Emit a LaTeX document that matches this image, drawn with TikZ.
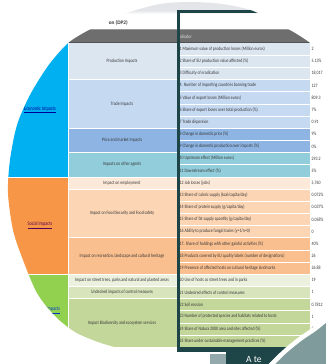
\documentclass[tikz,border=0pt]{standalone}
\usepackage{fontspec}
\setmainfont{Carlito}
\newfontfamily\nfont[FakeStretch=0.78]{Carlito}
\definecolor{econ}{HTML}{00B0F0}
\definecolor{social}{HTML}{F79646}
\definecolor{env}{HTML}{92D050}
\definecolor{cprod}{HTML}{DCE6F1}
\definecolor{ctrade}{HTML}{C5D9F1}
\definecolor{cprice}{HTML}{8DB4E2}
\definecolor{cother}{HTML}{92CDDC}
\definecolor{cemploy}{HTML}{FDE9D9}
\definecolor{cfood}{HTML}{FCD5B4}
\definecolor{crecr}{HTML}{FABF8F}
\definecolor{cstreet}{HTML}{EBF1DE}
\definecolor{cundes}{HTML}{D8E4BC}
\definecolor{cbio}{HTML}{C4D79B}
\definecolor{txt}{HTML}{363636}
\definecolor{hdr}{HTML}{6E6E6E}
\definecolor{frame}{HTML}{1D4447}
\definecolor{panel}{HTML}{1E4649}
\definecolor{pgray}{HTML}{93A9AC}
\definecolor{brgray}{HTML}{7F9B9C}
\definecolor{topgray}{HTML}{E3E5E9}
\newcommand\ry[1]{43+(#1)*12.16}
\newcommand\indrow[3]{%
  \node[indtext] (t#1) at (179.5,{\ry{#1-0.5}}) {#2};%
  \node[valtext] (v#1) at (311.5,{\ry{#1-0.5}}) {#3};}
\newcommand\grp[3]{\fill[#3] (68,{\ry{#1}}) rectangle (310,{\ry{#2}});}
\begin{document}
\begin{tikzpicture}[x=1pt,y=-1pt,
  indtext/.style={anchor=west,inner sep=0pt,font=\nfont\fontsize{5}{6}\selectfont,text=txt},
  valtext/.style={anchor=west,inner sep=0pt,font=\nfont\fontsize{5}{6}\selectfont,text=txt},
  subtext/.style={inner sep=0pt,font=\nfont\fontsize{5}{6}\selectfont,text=txt},
  cattext/.style={inner sep=0pt,font=\nfont\fontsize{5.5}{6.5}\selectfont},
  gridline/.style={white,line width=0.5pt}]
\useasboundingbox (0,0) rectangle (326,364);
\fill[white] (0,0) rectangle (326,364);
\begin{scope}
\clip plot[smooth] coordinates {(335,58) (318,49) (306,40) (288,29) (253,11) (222,4) (190,2) (160,4) (130,12) (103,23) (80,35) (66,45) (48,66) (30,95) (17,125) (10,160) (8,193) (13,230) (23,260) (37,293) (55,316) (75,332) (98,342) (118,348)} -- (118,372) -- (340,372) -- (340,58) -- cycle;
% top gray band
\fill[topgray] (0,-5) rectangle (340,10);
\shade[top color=topgray,bottom color=white] (0,10) rectangle (340,14);
% title
\node[anchor=east,inner sep=0pt,font=\bfseries\fontsize{5.3}{6}\selectfont,text=txt] (title) at (128,23) {on (DP2)};
% header
\fill[hdr] (-10,29.5) rectangle (340,42);
\fill[black!40] (-10,29.2) rectangle (340,30);
\fill[black!68] (-10,42) rectangle (340,43.3);
\node[anchor=west,inner sep=0pt,font=\nfont\fontsize{5}{6}\selectfont,text=white!88!black] (hind) at (177.6,36.3) {Indicator};
% column 1
\fill[econ] (-10,{\ry{0}}) rectangle (68,{\ry{11}});
\fill[social] (-10,{\ry{11}}) rectangle (68,{\ry{19}});
\fill[env] (-10,{\ry{19}}) rectangle (68,{\ry{25}});
% columns 2 and 3
\grp{0}{3}{cprod}
\grp{3}{7}{ctrade}
\grp{7}{9}{cprice}
\grp{9}{11}{cother}
\grp{11}{12}{cemploy}
\grp{12}{16}{cfood}
\grp{16}{19}{crecr}
\grp{19}{20}{cstreet}
\grp{20}{21}{cundes}
\grp{21}{25}{cbio}
% grid lines
\draw[gridline] (68,{\ry{0}}) -- (68,{\ry{25}});
\foreach \k in {1,...,24} {\draw[gridline,line width=0.3pt] (179.5,{\ry{\k}}) -- (310,{\ry{\k}});}
\foreach \k in {3,7,9,11,12,16,19,20,21} {\draw[gridline] (68,{\ry{\k}}) -- (310,{\ry{\k}});}
\foreach \k in {11,19} {\draw[gridline] (-10,{\ry{\k}}) -- (68,{\ry{\k}});}
% column 1 labels
\node[cattext,text=blue!60!black] (cEcon) at (40,{\ry{5.5}}) {\underline{Economic Impacts}};
\node[cattext,text=violet!70!black] (cSoc) at (40,{\ry{15}}) {\underline{Social Impacts}};
\node[cattext,text=blue!55!teal] (cEnv) at (40,{\ry{22}}) {\underline{Environmental Impacts}};
% column 2 labels
\node[subtext] (sProd) at (122,{\ry{1.5}}) {Production Impacts};
\node[subtext] (sTrade) at (122,{\ry{5}}) {Trade Impacts};
\node[subtext] (sPrice) at (122,{\ry{8}}) {Price and market Impacts};
\node[subtext] (sOther) at (122,{\ry{10}}) {Impacts on other agents};
\node[subtext] (sEmploy) at (122,{\ry{11.5}}) {Impact on employment};
\node[subtext] (sFood) at (122,{\ry{14}}) {Impact on Food Security and Food safety};
\node[subtext] (sRecr) at (122,{\ry{17.5}}) {Impact on recreation, landscape and cultural heritage};
\node[subtext] (sStreet) at (122,{\ry{19.5}}) {Impact on street trees, parks and natural and planted areas};
\node[subtext] (sUndes) at (122,{\ry{20.5}}) {Undesired impacts of control measures};
\node[subtext] (sBio) at (122,{\ry{23}}) {Impact Biodiversity and ecosystem services};
% indicator rows
\indrow{1}{1 Maximum value of production losses (Million euros)}{2}
\indrow{2}{2 Share of EU production value affected (\%)}{5.13\%}
\indrow{3}{3 Difficulty of eradication}{18,017}
\indrow{4}{4. Number of importing countries banning trade}{127}
\indrow{5}{5 Value of export losses (Million euros)}{809.3}
\indrow{6}{6 Share of export losses over total production (\%)}{7\%}
\indrow{7}{7 Trade dispersion}{0.91}
\indrow{8}{8 Change in domestic price (\%)}{9\%}
\indrow{9}{9 Change in domestic production over imports (\%)}{0\%}
\indrow{10}{10 Upstream effect (Million euros)}{293.2}
\indrow{11}{11 Downstream effect (\%)}{5\%}
\indrow{12}{12 Job losses (jobs)}{5,760}
\indrow{13}{13 Share of caloric supply (kcal/capita/day)}{0.072\%}
\indrow{14}{14 Share of protein supply (g/capita/day)}{0.037\%}
\indrow{15}{15 Share of fat supply quantity (g/capita/day)}{0.058\%}
\indrow{16}{16 Ability to produce fungal toxins (y=1/n=0)}{0}
\indrow{17}{17. Share of holdings with other gainful activities (\%)}{40\%}
\indrow{18}{18 Products covered by EU quality labels (number of  designations)}{26}
\indrow{19}{19 Presence of affected hosts on cultural heritage landmarks}{26.88}
\indrow{20}{20 Use of hosts as street trees and in parks}{19}
\indrow{21}{21 Undesired effects of control measures}{1}
\indrow{22}{22 Soil erosion}{0.7812}
\indrow{23}{23 Number of protected species and habitats related to hosts}{1}
\indrow{24}{24 Share of Natura 2000 area and sites affected (\%)}{50\%}
\node[indtext] (t25) at (179.5,{\ry{24.5}}) {25 Share under sustainable management practices (\%)};
% dark frame
\fill[frame] (176.5,9.5) rectangle (179.5,351.5);
\fill[frame] (176.5,9.5) rectangle (270,12.5);
\fill[frame] (176.5,347.3) rectangle (305,351.5);
\end{scope}
% bottom panel
\fill[pgray] (210,354) rectangle (226,370);
\fill[panel] (226,350) rectangle (330,370);
\node[anchor=base west,inner sep=0pt,text=white,font=\fontsize{9.5}{11}\selectfont] (ate) at (246,362.3) {A te};
% bottom-right gray shape with white rim
\fill[brgray] plot[smooth] coordinates {(264,372) (283,353) (300,339) (316,328) (334,313)} -- (340,372) -- cycle;
\draw[white,line width=4.5pt] plot[smooth] coordinates {(264,372) (283,353) (300,339) (316,328) (334,313)};
\end{tikzpicture}
\end{document}
